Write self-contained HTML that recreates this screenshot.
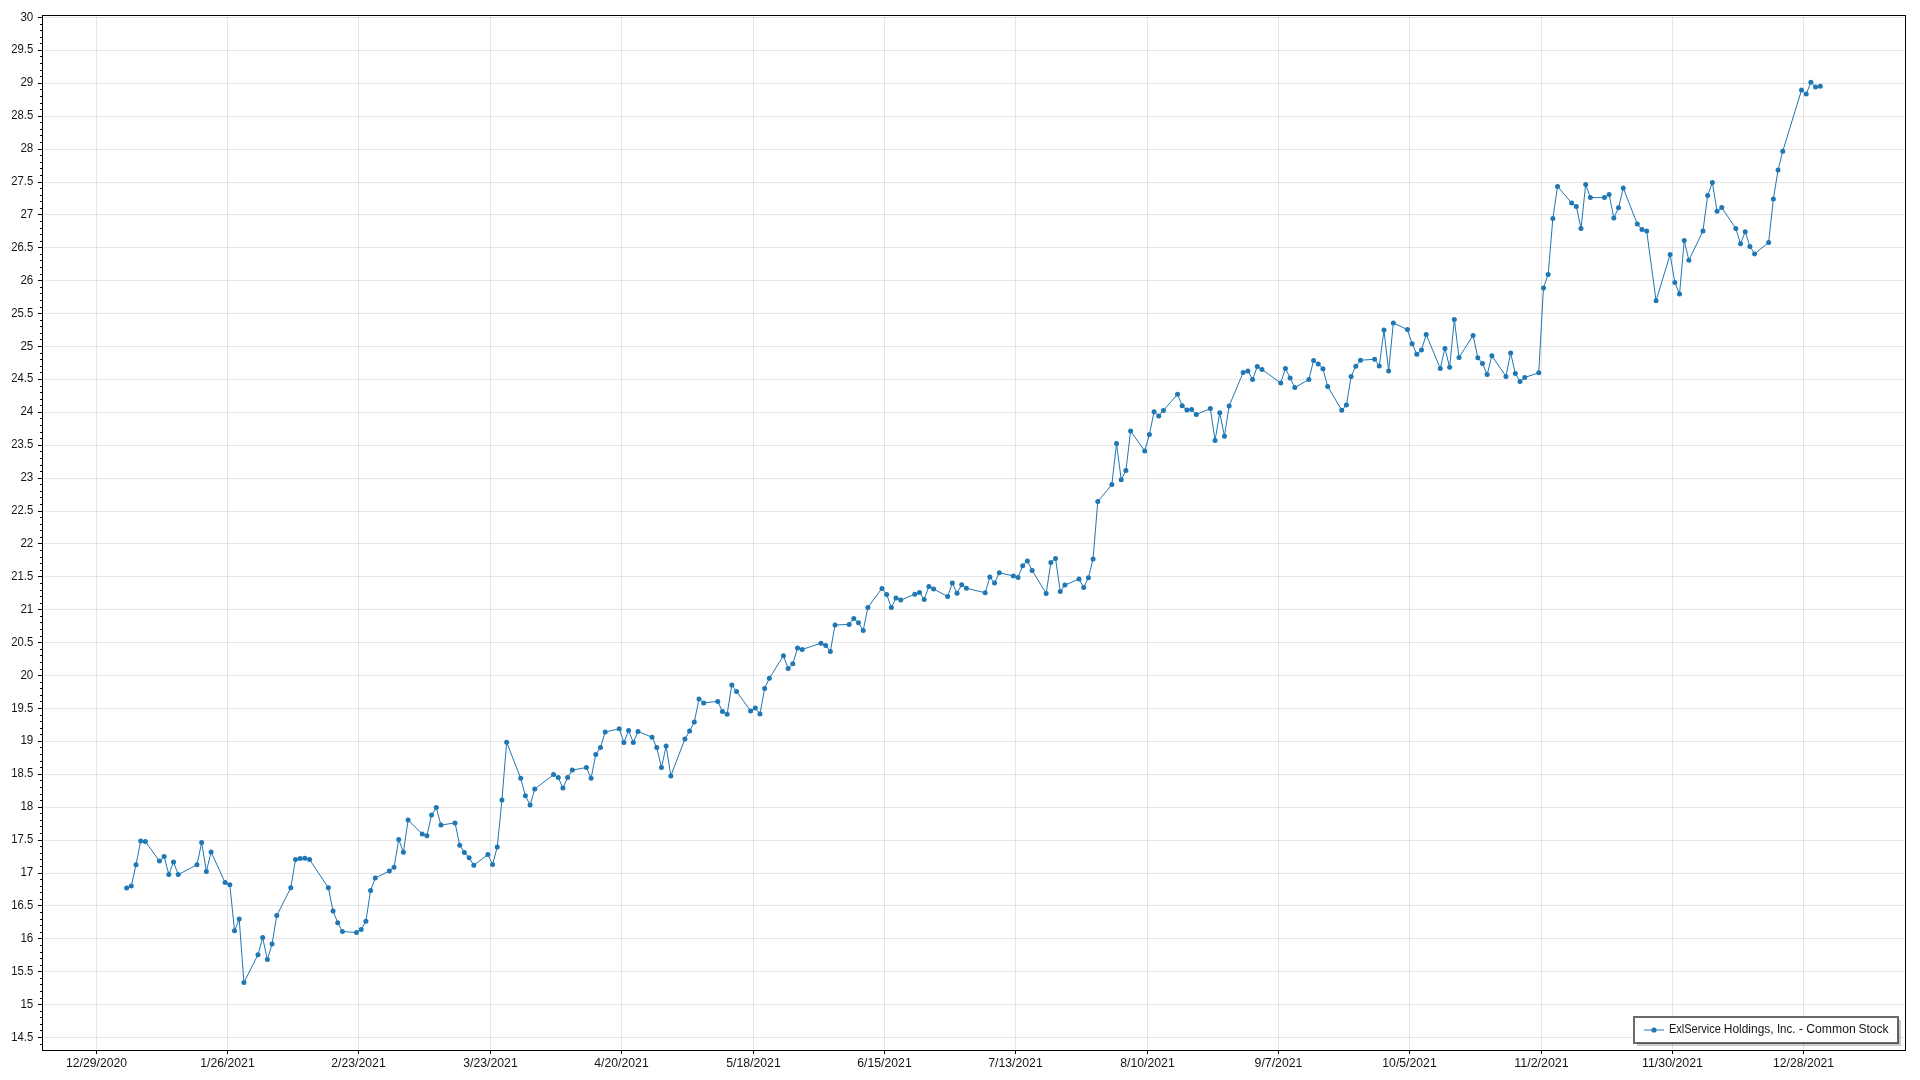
<!DOCTYPE html>
<html><head><meta charset="utf-8"><title>ExlService Holdings, Inc. - Common Stock</title>
<style>html,body{margin:0;padding:0;background:#fff;overflow:hidden}body{width:1920px;height:1080px}svg{display:block;position:absolute;left:0;top:0}text{font-family:"Liberation Sans",sans-serif;font-size:12px;fill:#000}</style></head><body>
<svg width="1920" height="1080" viewBox="0 0 1920 1080">
<defs><filter id="gs" x="0" y="0" width="100%" height="100%" filterUnits="userSpaceOnUse" color-interpolation-filters="sRGB"><feColorMatrix type="saturate" values="0"/></filter></defs>
<rect x="0" y="0" width="1920" height="1080" fill="#fff"/>
<g stroke="#000" stroke-opacity="0.1" stroke-width="1" shape-rendering="crispEdges">
<line x1="44" x2="1904" y1="1037.5" y2="1037.5"/>
<line x1="44" x2="1904" y1="1004.5" y2="1004.5"/>
<line x1="44" x2="1904" y1="971.5" y2="971.5"/>
<line x1="44" x2="1904" y1="938.5" y2="938.5"/>
<line x1="44" x2="1904" y1="905.5" y2="905.5"/>
<line x1="44" x2="1904" y1="873.5" y2="873.5"/>
<line x1="44" x2="1904" y1="840.5" y2="840.5"/>
<line x1="44" x2="1904" y1="807.5" y2="807.5"/>
<line x1="44" x2="1904" y1="774.5" y2="774.5"/>
<line x1="44" x2="1904" y1="741.5" y2="741.5"/>
<line x1="44" x2="1904" y1="708.5" y2="708.5"/>
<line x1="44" x2="1904" y1="675.5" y2="675.5"/>
<line x1="44" x2="1904" y1="642.5" y2="642.5"/>
<line x1="44" x2="1904" y1="609.5" y2="609.5"/>
<line x1="44" x2="1904" y1="576.5" y2="576.5"/>
<line x1="44" x2="1904" y1="543.5" y2="543.5"/>
<line x1="44" x2="1904" y1="511.5" y2="511.5"/>
<line x1="44" x2="1904" y1="478.5" y2="478.5"/>
<line x1="44" x2="1904" y1="445.5" y2="445.5"/>
<line x1="44" x2="1904" y1="412.5" y2="412.5"/>
<line x1="44" x2="1904" y1="379.5" y2="379.5"/>
<line x1="44" x2="1904" y1="346.5" y2="346.5"/>
<line x1="44" x2="1904" y1="313.5" y2="313.5"/>
<line x1="44" x2="1904" y1="280.5" y2="280.5"/>
<line x1="44" x2="1904" y1="247.5" y2="247.5"/>
<line x1="44" x2="1904" y1="214.5" y2="214.5"/>
<line x1="44" x2="1904" y1="182.5" y2="182.5"/>
<line x1="44" x2="1904" y1="149.5" y2="149.5"/>
<line x1="44" x2="1904" y1="116.5" y2="116.5"/>
<line x1="44" x2="1904" y1="83.5" y2="83.5"/>
<line x1="44" x2="1904" y1="50.5" y2="50.5"/>
<line x1="44" x2="1904" y1="17.5" y2="17.5"/>
<line x1="96.5" x2="96.5" y1="17" y2="1049"/>
<line x1="227.5" x2="227.5" y1="17" y2="1049"/>
<line x1="358.5" x2="358.5" y1="17" y2="1049"/>
<line x1="490.5" x2="490.5" y1="17" y2="1049"/>
<line x1="621.5" x2="621.5" y1="17" y2="1049"/>
<line x1="753.5" x2="753.5" y1="17" y2="1049"/>
<line x1="884.5" x2="884.5" y1="17" y2="1049"/>
<line x1="1015.5" x2="1015.5" y1="17" y2="1049"/>
<line x1="1147.5" x2="1147.5" y1="17" y2="1049"/>
<line x1="1278.5" x2="1278.5" y1="17" y2="1049"/>
<line x1="1409.5" x2="1409.5" y1="17" y2="1049"/>
<line x1="1541.5" x2="1541.5" y1="17" y2="1049"/>
<line x1="1672.5" x2="1672.5" y1="17" y2="1049"/>
<line x1="1803.5" x2="1803.5" y1="17" y2="1049"/>
</g>
<polyline fill="none" stroke="#1f77b4" stroke-width="1" stroke-linejoin="round" points="126.62,887.90 131.31,886.00 136.00,864.75 140.69,841.00 145.38,841.50 159.46,861.10 164.15,856.60 168.84,874.40 173.53,861.90 178.22,874.60 196.99,864.75 201.68,842.40 206.37,871.50 211.07,851.90 225.14,882.60 229.83,884.75 234.52,930.80 239.21,919.10 243.91,982.50 257.98,954.75 262.67,937.60 267.36,959.60 272.06,944.10 276.75,915.60 290.82,887.80 295.51,859.50 300.20,858.50 304.90,858.25 309.59,859.60 328.35,887.80 333.05,911.10 337.74,922.70 342.43,931.40 356.50,932.60 361.19,929.50 365.89,921.25 370.58,890.40 375.27,878.00 389.34,871.00 394.04,867.30 398.73,839.50 403.42,852.25 408.11,820.00 422.19,833.90 426.88,835.75 431.57,815.00 436.26,807.60 440.95,825.10 455.03,822.90 459.72,845.25 464.41,852.40 469.10,857.75 473.79,865.25 487.87,854.60 492.56,864.40 497.25,847.10 501.94,800.00 506.63,742.25 520.71,778.25 525.40,795.75 530.09,805.10 534.78,789.00 553.55,774.60 558.24,777.60 562.93,788.00 567.62,777.50 572.32,770.10 586.39,767.50 591.08,778.25 595.77,754.50 600.46,747.50 605.16,732.10 619.23,728.75 623.92,742.50 628.61,730.40 633.31,742.40 638.00,731.40 652.07,737.25 656.76,747.50 661.45,767.60 666.15,746.00 670.84,775.90 684.91,739.00 689.60,731.00 694.30,722.10 698.99,699.10 703.68,702.90 717.75,701.40 722.45,711.50 727.14,714.25 731.83,684.90 736.52,691.40 750.59,710.90 755.29,708.00 759.98,713.90 764.67,688.40 769.36,678.30 783.44,655.75 788.13,668.50 792.82,663.75 797.51,648.10 802.20,649.40 820.97,643.25 825.66,645.40 830.35,651.60 835.04,625.00 849.12,624.40 853.81,618.40 858.50,622.75 863.19,630.40 867.88,607.50 881.96,588.40 886.65,594.50 891.34,607.50 896.03,598.10 900.72,600.10 914.80,594.25 919.49,592.50 924.18,599.40 928.87,586.40 933.57,589.00 947.64,596.50 952.33,583.10 957.02,593.25 961.71,584.75 966.41,588.25 985.17,592.75 989.86,577.10 994.56,582.90 999.25,572.80 1013.32,575.90 1018.01,577.40 1022.70,565.75 1027.40,560.90 1032.09,570.40 1046.16,593.40 1050.85,562.60 1055.55,558.50 1060.24,591.60 1064.93,585.10 1079.00,579.10 1083.70,587.50 1088.39,577.75 1093.08,558.90 1097.77,501.50 1111.84,484.60 1116.54,443.50 1121.23,479.80 1125.92,470.50 1130.61,431.00 1144.69,451.00 1149.38,434.50 1154.07,411.75 1158.76,416.00 1163.45,410.40 1177.53,394.25 1182.22,405.75 1186.91,410.10 1191.60,409.50 1196.29,414.40 1210.37,408.60 1215.06,440.40 1219.75,412.75 1224.44,436.25 1229.13,405.90 1243.21,372.40 1247.90,370.90 1252.59,379.50 1257.28,366.60 1261.97,369.40 1280.74,383.10 1285.43,368.50 1290.12,377.90 1294.82,387.60 1308.89,379.50 1313.58,360.40 1318.27,364.00 1322.96,368.75 1327.66,386.45 1341.73,410.25 1346.42,405.10 1351.11,376.50 1355.81,366.25 1360.50,360.25 1374.57,359.25 1379.26,366.10 1383.96,330.10 1388.65,371.10 1393.34,323.00 1407.41,329.60 1412.10,343.75 1416.80,354.25 1421.49,350.10 1426.18,334.50 1440.25,368.40 1444.95,348.40 1449.64,367.25 1454.33,319.40 1459.02,357.50 1473.09,335.40 1477.79,357.75 1482.48,363.50 1487.17,374.60 1491.86,355.75 1505.94,376.40 1510.63,352.90 1515.32,373.50 1520.01,381.50 1524.70,377.50 1538.78,372.75 1543.47,287.90 1548.16,274.40 1552.85,218.50 1557.54,186.50 1571.62,202.90 1576.31,206.40 1581.00,228.40 1585.69,184.50 1590.38,197.60 1604.46,197.60 1609.15,194.50 1613.84,218.00 1618.53,207.75 1623.22,188.00 1637.30,224.10 1641.99,229.50 1646.68,231.00 1656.07,300.75 1670.14,254.50 1674.83,282.40 1679.52,294.10 1684.21,240.60 1688.91,260.25 1702.98,230.90 1707.67,195.40 1712.36,182.55 1717.06,211.25 1721.75,207.50 1735.82,228.60 1740.51,243.75 1745.21,231.75 1749.90,246.40 1754.59,253.90 1768.66,242.40 1773.35,199.00 1778.05,170.10 1782.74,151.25 1801.50,90.10 1806.20,94.10 1810.89,82.25 1815.58,87.00 1820.27,86.25"/>
<g fill="#1f77b4">
<circle cx="126.62" cy="887.90" r="2.5"/>
<circle cx="131.31" cy="886.00" r="2.5"/>
<circle cx="136.00" cy="864.75" r="2.5"/>
<circle cx="140.69" cy="841.00" r="2.5"/>
<circle cx="145.38" cy="841.50" r="2.5"/>
<circle cx="159.46" cy="861.10" r="2.5"/>
<circle cx="164.15" cy="856.60" r="2.5"/>
<circle cx="168.84" cy="874.40" r="2.5"/>
<circle cx="173.53" cy="861.90" r="2.5"/>
<circle cx="178.22" cy="874.60" r="2.5"/>
<circle cx="196.99" cy="864.75" r="2.5"/>
<circle cx="201.68" cy="842.40" r="2.5"/>
<circle cx="206.37" cy="871.50" r="2.5"/>
<circle cx="211.07" cy="851.90" r="2.5"/>
<circle cx="225.14" cy="882.60" r="2.5"/>
<circle cx="229.83" cy="884.75" r="2.5"/>
<circle cx="234.52" cy="930.80" r="2.5"/>
<circle cx="239.21" cy="919.10" r="2.5"/>
<circle cx="243.91" cy="982.50" r="2.5"/>
<circle cx="257.98" cy="954.75" r="2.5"/>
<circle cx="262.67" cy="937.60" r="2.5"/>
<circle cx="267.36" cy="959.60" r="2.5"/>
<circle cx="272.06" cy="944.10" r="2.5"/>
<circle cx="276.75" cy="915.60" r="2.5"/>
<circle cx="290.82" cy="887.80" r="2.5"/>
<circle cx="295.51" cy="859.50" r="2.5"/>
<circle cx="300.20" cy="858.50" r="2.5"/>
<circle cx="304.90" cy="858.25" r="2.5"/>
<circle cx="309.59" cy="859.60" r="2.5"/>
<circle cx="328.35" cy="887.80" r="2.5"/>
<circle cx="333.05" cy="911.10" r="2.5"/>
<circle cx="337.74" cy="922.70" r="2.5"/>
<circle cx="342.43" cy="931.40" r="2.5"/>
<circle cx="356.50" cy="932.60" r="2.5"/>
<circle cx="361.19" cy="929.50" r="2.5"/>
<circle cx="365.89" cy="921.25" r="2.5"/>
<circle cx="370.58" cy="890.40" r="2.5"/>
<circle cx="375.27" cy="878.00" r="2.5"/>
<circle cx="389.34" cy="871.00" r="2.5"/>
<circle cx="394.04" cy="867.30" r="2.5"/>
<circle cx="398.73" cy="839.50" r="2.5"/>
<circle cx="403.42" cy="852.25" r="2.5"/>
<circle cx="408.11" cy="820.00" r="2.5"/>
<circle cx="422.19" cy="833.90" r="2.5"/>
<circle cx="426.88" cy="835.75" r="2.5"/>
<circle cx="431.57" cy="815.00" r="2.5"/>
<circle cx="436.26" cy="807.60" r="2.5"/>
<circle cx="440.95" cy="825.10" r="2.5"/>
<circle cx="455.03" cy="822.90" r="2.5"/>
<circle cx="459.72" cy="845.25" r="2.5"/>
<circle cx="464.41" cy="852.40" r="2.5"/>
<circle cx="469.10" cy="857.75" r="2.5"/>
<circle cx="473.79" cy="865.25" r="2.5"/>
<circle cx="487.87" cy="854.60" r="2.5"/>
<circle cx="492.56" cy="864.40" r="2.5"/>
<circle cx="497.25" cy="847.10" r="2.5"/>
<circle cx="501.94" cy="800.00" r="2.5"/>
<circle cx="506.63" cy="742.25" r="2.5"/>
<circle cx="520.71" cy="778.25" r="2.5"/>
<circle cx="525.40" cy="795.75" r="2.5"/>
<circle cx="530.09" cy="805.10" r="2.5"/>
<circle cx="534.78" cy="789.00" r="2.5"/>
<circle cx="553.55" cy="774.60" r="2.5"/>
<circle cx="558.24" cy="777.60" r="2.5"/>
<circle cx="562.93" cy="788.00" r="2.5"/>
<circle cx="567.62" cy="777.50" r="2.5"/>
<circle cx="572.32" cy="770.10" r="2.5"/>
<circle cx="586.39" cy="767.50" r="2.5"/>
<circle cx="591.08" cy="778.25" r="2.5"/>
<circle cx="595.77" cy="754.50" r="2.5"/>
<circle cx="600.46" cy="747.50" r="2.5"/>
<circle cx="605.16" cy="732.10" r="2.5"/>
<circle cx="619.23" cy="728.75" r="2.5"/>
<circle cx="623.92" cy="742.50" r="2.5"/>
<circle cx="628.61" cy="730.40" r="2.5"/>
<circle cx="633.31" cy="742.40" r="2.5"/>
<circle cx="638.00" cy="731.40" r="2.5"/>
<circle cx="652.07" cy="737.25" r="2.5"/>
<circle cx="656.76" cy="747.50" r="2.5"/>
<circle cx="661.45" cy="767.60" r="2.5"/>
<circle cx="666.15" cy="746.00" r="2.5"/>
<circle cx="670.84" cy="775.90" r="2.5"/>
<circle cx="684.91" cy="739.00" r="2.5"/>
<circle cx="689.60" cy="731.00" r="2.5"/>
<circle cx="694.30" cy="722.10" r="2.5"/>
<circle cx="698.99" cy="699.10" r="2.5"/>
<circle cx="703.68" cy="702.90" r="2.5"/>
<circle cx="717.75" cy="701.40" r="2.5"/>
<circle cx="722.45" cy="711.50" r="2.5"/>
<circle cx="727.14" cy="714.25" r="2.5"/>
<circle cx="731.83" cy="684.90" r="2.5"/>
<circle cx="736.52" cy="691.40" r="2.5"/>
<circle cx="750.59" cy="710.90" r="2.5"/>
<circle cx="755.29" cy="708.00" r="2.5"/>
<circle cx="759.98" cy="713.90" r="2.5"/>
<circle cx="764.67" cy="688.40" r="2.5"/>
<circle cx="769.36" cy="678.30" r="2.5"/>
<circle cx="783.44" cy="655.75" r="2.5"/>
<circle cx="788.13" cy="668.50" r="2.5"/>
<circle cx="792.82" cy="663.75" r="2.5"/>
<circle cx="797.51" cy="648.10" r="2.5"/>
<circle cx="802.20" cy="649.40" r="2.5"/>
<circle cx="820.97" cy="643.25" r="2.5"/>
<circle cx="825.66" cy="645.40" r="2.5"/>
<circle cx="830.35" cy="651.60" r="2.5"/>
<circle cx="835.04" cy="625.00" r="2.5"/>
<circle cx="849.12" cy="624.40" r="2.5"/>
<circle cx="853.81" cy="618.40" r="2.5"/>
<circle cx="858.50" cy="622.75" r="2.5"/>
<circle cx="863.19" cy="630.40" r="2.5"/>
<circle cx="867.88" cy="607.50" r="2.5"/>
<circle cx="881.96" cy="588.40" r="2.5"/>
<circle cx="886.65" cy="594.50" r="2.5"/>
<circle cx="891.34" cy="607.50" r="2.5"/>
<circle cx="896.03" cy="598.10" r="2.5"/>
<circle cx="900.72" cy="600.10" r="2.5"/>
<circle cx="914.80" cy="594.25" r="2.5"/>
<circle cx="919.49" cy="592.50" r="2.5"/>
<circle cx="924.18" cy="599.40" r="2.5"/>
<circle cx="928.87" cy="586.40" r="2.5"/>
<circle cx="933.57" cy="589.00" r="2.5"/>
<circle cx="947.64" cy="596.50" r="2.5"/>
<circle cx="952.33" cy="583.10" r="2.5"/>
<circle cx="957.02" cy="593.25" r="2.5"/>
<circle cx="961.71" cy="584.75" r="2.5"/>
<circle cx="966.41" cy="588.25" r="2.5"/>
<circle cx="985.17" cy="592.75" r="2.5"/>
<circle cx="989.86" cy="577.10" r="2.5"/>
<circle cx="994.56" cy="582.90" r="2.5"/>
<circle cx="999.25" cy="572.80" r="2.5"/>
<circle cx="1013.32" cy="575.90" r="2.5"/>
<circle cx="1018.01" cy="577.40" r="2.5"/>
<circle cx="1022.70" cy="565.75" r="2.5"/>
<circle cx="1027.40" cy="560.90" r="2.5"/>
<circle cx="1032.09" cy="570.40" r="2.5"/>
<circle cx="1046.16" cy="593.40" r="2.5"/>
<circle cx="1050.85" cy="562.60" r="2.5"/>
<circle cx="1055.55" cy="558.50" r="2.5"/>
<circle cx="1060.24" cy="591.60" r="2.5"/>
<circle cx="1064.93" cy="585.10" r="2.5"/>
<circle cx="1079.00" cy="579.10" r="2.5"/>
<circle cx="1083.70" cy="587.50" r="2.5"/>
<circle cx="1088.39" cy="577.75" r="2.5"/>
<circle cx="1093.08" cy="558.90" r="2.5"/>
<circle cx="1097.77" cy="501.50" r="2.5"/>
<circle cx="1111.84" cy="484.60" r="2.5"/>
<circle cx="1116.54" cy="443.50" r="2.5"/>
<circle cx="1121.23" cy="479.80" r="2.5"/>
<circle cx="1125.92" cy="470.50" r="2.5"/>
<circle cx="1130.61" cy="431.00" r="2.5"/>
<circle cx="1144.69" cy="451.00" r="2.5"/>
<circle cx="1149.38" cy="434.50" r="2.5"/>
<circle cx="1154.07" cy="411.75" r="2.5"/>
<circle cx="1158.76" cy="416.00" r="2.5"/>
<circle cx="1163.45" cy="410.40" r="2.5"/>
<circle cx="1177.53" cy="394.25" r="2.5"/>
<circle cx="1182.22" cy="405.75" r="2.5"/>
<circle cx="1186.91" cy="410.10" r="2.5"/>
<circle cx="1191.60" cy="409.50" r="2.5"/>
<circle cx="1196.29" cy="414.40" r="2.5"/>
<circle cx="1210.37" cy="408.60" r="2.5"/>
<circle cx="1215.06" cy="440.40" r="2.5"/>
<circle cx="1219.75" cy="412.75" r="2.5"/>
<circle cx="1224.44" cy="436.25" r="2.5"/>
<circle cx="1229.13" cy="405.90" r="2.5"/>
<circle cx="1243.21" cy="372.40" r="2.5"/>
<circle cx="1247.90" cy="370.90" r="2.5"/>
<circle cx="1252.59" cy="379.50" r="2.5"/>
<circle cx="1257.28" cy="366.60" r="2.5"/>
<circle cx="1261.97" cy="369.40" r="2.5"/>
<circle cx="1280.74" cy="383.10" r="2.5"/>
<circle cx="1285.43" cy="368.50" r="2.5"/>
<circle cx="1290.12" cy="377.90" r="2.5"/>
<circle cx="1294.82" cy="387.60" r="2.5"/>
<circle cx="1308.89" cy="379.50" r="2.5"/>
<circle cx="1313.58" cy="360.40" r="2.5"/>
<circle cx="1318.27" cy="364.00" r="2.5"/>
<circle cx="1322.96" cy="368.75" r="2.5"/>
<circle cx="1327.66" cy="386.45" r="2.5"/>
<circle cx="1341.73" cy="410.25" r="2.5"/>
<circle cx="1346.42" cy="405.10" r="2.5"/>
<circle cx="1351.11" cy="376.50" r="2.5"/>
<circle cx="1355.81" cy="366.25" r="2.5"/>
<circle cx="1360.50" cy="360.25" r="2.5"/>
<circle cx="1374.57" cy="359.25" r="2.5"/>
<circle cx="1379.26" cy="366.10" r="2.5"/>
<circle cx="1383.96" cy="330.10" r="2.5"/>
<circle cx="1388.65" cy="371.10" r="2.5"/>
<circle cx="1393.34" cy="323.00" r="2.5"/>
<circle cx="1407.41" cy="329.60" r="2.5"/>
<circle cx="1412.10" cy="343.75" r="2.5"/>
<circle cx="1416.80" cy="354.25" r="2.5"/>
<circle cx="1421.49" cy="350.10" r="2.5"/>
<circle cx="1426.18" cy="334.50" r="2.5"/>
<circle cx="1440.25" cy="368.40" r="2.5"/>
<circle cx="1444.95" cy="348.40" r="2.5"/>
<circle cx="1449.64" cy="367.25" r="2.5"/>
<circle cx="1454.33" cy="319.40" r="2.5"/>
<circle cx="1459.02" cy="357.50" r="2.5"/>
<circle cx="1473.09" cy="335.40" r="2.5"/>
<circle cx="1477.79" cy="357.75" r="2.5"/>
<circle cx="1482.48" cy="363.50" r="2.5"/>
<circle cx="1487.17" cy="374.60" r="2.5"/>
<circle cx="1491.86" cy="355.75" r="2.5"/>
<circle cx="1505.94" cy="376.40" r="2.5"/>
<circle cx="1510.63" cy="352.90" r="2.5"/>
<circle cx="1515.32" cy="373.50" r="2.5"/>
<circle cx="1520.01" cy="381.50" r="2.5"/>
<circle cx="1524.70" cy="377.50" r="2.5"/>
<circle cx="1538.78" cy="372.75" r="2.5"/>
<circle cx="1543.47" cy="287.90" r="2.5"/>
<circle cx="1548.16" cy="274.40" r="2.5"/>
<circle cx="1552.85" cy="218.50" r="2.5"/>
<circle cx="1557.54" cy="186.50" r="2.5"/>
<circle cx="1571.62" cy="202.90" r="2.5"/>
<circle cx="1576.31" cy="206.40" r="2.5"/>
<circle cx="1581.00" cy="228.40" r="2.5"/>
<circle cx="1585.69" cy="184.50" r="2.5"/>
<circle cx="1590.38" cy="197.60" r="2.5"/>
<circle cx="1604.46" cy="197.60" r="2.5"/>
<circle cx="1609.15" cy="194.50" r="2.5"/>
<circle cx="1613.84" cy="218.00" r="2.5"/>
<circle cx="1618.53" cy="207.75" r="2.5"/>
<circle cx="1623.22" cy="188.00" r="2.5"/>
<circle cx="1637.30" cy="224.10" r="2.5"/>
<circle cx="1641.99" cy="229.50" r="2.5"/>
<circle cx="1646.68" cy="231.00" r="2.5"/>
<circle cx="1656.07" cy="300.75" r="2.5"/>
<circle cx="1670.14" cy="254.50" r="2.5"/>
<circle cx="1674.83" cy="282.40" r="2.5"/>
<circle cx="1679.52" cy="294.10" r="2.5"/>
<circle cx="1684.21" cy="240.60" r="2.5"/>
<circle cx="1688.91" cy="260.25" r="2.5"/>
<circle cx="1702.98" cy="230.90" r="2.5"/>
<circle cx="1707.67" cy="195.40" r="2.5"/>
<circle cx="1712.36" cy="182.55" r="2.5"/>
<circle cx="1717.06" cy="211.25" r="2.5"/>
<circle cx="1721.75" cy="207.50" r="2.5"/>
<circle cx="1735.82" cy="228.60" r="2.5"/>
<circle cx="1740.51" cy="243.75" r="2.5"/>
<circle cx="1745.21" cy="231.75" r="2.5"/>
<circle cx="1749.90" cy="246.40" r="2.5"/>
<circle cx="1754.59" cy="253.90" r="2.5"/>
<circle cx="1768.66" cy="242.40" r="2.5"/>
<circle cx="1773.35" cy="199.00" r="2.5"/>
<circle cx="1778.05" cy="170.10" r="2.5"/>
<circle cx="1782.74" cy="151.25" r="2.5"/>
<circle cx="1801.50" cy="90.10" r="2.5"/>
<circle cx="1806.20" cy="94.10" r="2.5"/>
<circle cx="1810.89" cy="82.25" r="2.5"/>
<circle cx="1815.58" cy="87.00" r="2.5"/>
<circle cx="1820.27" cy="86.25" r="2.5"/>
</g>
<g stroke="#000" stroke-width="1" shape-rendering="crispEdges" fill="none">
<rect x="42.5" y="15.5" width="1863" height="1035"/>
<line x1="40" x2="42" y1="1044.5" y2="1044.5"/>
<line x1="38" x2="42" y1="1037.5" y2="1037.5"/>
<line x1="40" x2="42" y1="1030.5" y2="1030.5"/>
<line x1="40" x2="42" y1="1024.5" y2="1024.5"/>
<line x1="40" x2="42" y1="1017.5" y2="1017.5"/>
<line x1="40" x2="42" y1="1011.5" y2="1011.5"/>
<line x1="38" x2="42" y1="1004.5" y2="1004.5"/>
<line x1="40" x2="42" y1="998.5" y2="998.5"/>
<line x1="40" x2="42" y1="991.5" y2="991.5"/>
<line x1="40" x2="42" y1="984.5" y2="984.5"/>
<line x1="40" x2="42" y1="978.5" y2="978.5"/>
<line x1="38" x2="42" y1="971.5" y2="971.5"/>
<line x1="40" x2="42" y1="965.5" y2="965.5"/>
<line x1="40" x2="42" y1="958.5" y2="958.5"/>
<line x1="40" x2="42" y1="952.5" y2="952.5"/>
<line x1="40" x2="42" y1="945.5" y2="945.5"/>
<line x1="38" x2="42" y1="938.5" y2="938.5"/>
<line x1="40" x2="42" y1="932.5" y2="932.5"/>
<line x1="40" x2="42" y1="925.5" y2="925.5"/>
<line x1="40" x2="42" y1="919.5" y2="919.5"/>
<line x1="40" x2="42" y1="912.5" y2="912.5"/>
<line x1="38" x2="42" y1="905.5" y2="905.5"/>
<line x1="40" x2="42" y1="899.5" y2="899.5"/>
<line x1="40" x2="42" y1="892.5" y2="892.5"/>
<line x1="40" x2="42" y1="886.5" y2="886.5"/>
<line x1="40" x2="42" y1="879.5" y2="879.5"/>
<line x1="38" x2="42" y1="873.5" y2="873.5"/>
<line x1="40" x2="42" y1="866.5" y2="866.5"/>
<line x1="40" x2="42" y1="859.5" y2="859.5"/>
<line x1="40" x2="42" y1="853.5" y2="853.5"/>
<line x1="40" x2="42" y1="846.5" y2="846.5"/>
<line x1="38" x2="42" y1="840.5" y2="840.5"/>
<line x1="40" x2="42" y1="833.5" y2="833.5"/>
<line x1="40" x2="42" y1="826.5" y2="826.5"/>
<line x1="40" x2="42" y1="820.5" y2="820.5"/>
<line x1="40" x2="42" y1="813.5" y2="813.5"/>
<line x1="38" x2="42" y1="807.5" y2="807.5"/>
<line x1="40" x2="42" y1="800.5" y2="800.5"/>
<line x1="40" x2="42" y1="794.5" y2="794.5"/>
<line x1="40" x2="42" y1="787.5" y2="787.5"/>
<line x1="40" x2="42" y1="780.5" y2="780.5"/>
<line x1="38" x2="42" y1="774.5" y2="774.5"/>
<line x1="40" x2="42" y1="767.5" y2="767.5"/>
<line x1="40" x2="42" y1="761.5" y2="761.5"/>
<line x1="40" x2="42" y1="754.5" y2="754.5"/>
<line x1="40" x2="42" y1="747.5" y2="747.5"/>
<line x1="38" x2="42" y1="741.5" y2="741.5"/>
<line x1="40" x2="42" y1="734.5" y2="734.5"/>
<line x1="40" x2="42" y1="728.5" y2="728.5"/>
<line x1="40" x2="42" y1="721.5" y2="721.5"/>
<line x1="40" x2="42" y1="715.5" y2="715.5"/>
<line x1="38" x2="42" y1="708.5" y2="708.5"/>
<line x1="40" x2="42" y1="701.5" y2="701.5"/>
<line x1="40" x2="42" y1="695.5" y2="695.5"/>
<line x1="40" x2="42" y1="688.5" y2="688.5"/>
<line x1="40" x2="42" y1="682.5" y2="682.5"/>
<line x1="38" x2="42" y1="675.5" y2="675.5"/>
<line x1="40" x2="42" y1="669.5" y2="669.5"/>
<line x1="40" x2="42" y1="662.5" y2="662.5"/>
<line x1="40" x2="42" y1="655.5" y2="655.5"/>
<line x1="40" x2="42" y1="649.5" y2="649.5"/>
<line x1="38" x2="42" y1="642.5" y2="642.5"/>
<line x1="40" x2="42" y1="636.5" y2="636.5"/>
<line x1="40" x2="42" y1="629.5" y2="629.5"/>
<line x1="40" x2="42" y1="622.5" y2="622.5"/>
<line x1="40" x2="42" y1="616.5" y2="616.5"/>
<line x1="38" x2="42" y1="609.5" y2="609.5"/>
<line x1="40" x2="42" y1="603.5" y2="603.5"/>
<line x1="40" x2="42" y1="596.5" y2="596.5"/>
<line x1="40" x2="42" y1="590.5" y2="590.5"/>
<line x1="40" x2="42" y1="583.5" y2="583.5"/>
<line x1="38" x2="42" y1="576.5" y2="576.5"/>
<line x1="40" x2="42" y1="570.5" y2="570.5"/>
<line x1="40" x2="42" y1="563.5" y2="563.5"/>
<line x1="40" x2="42" y1="557.5" y2="557.5"/>
<line x1="40" x2="42" y1="550.5" y2="550.5"/>
<line x1="38" x2="42" y1="543.5" y2="543.5"/>
<line x1="40" x2="42" y1="537.5" y2="537.5"/>
<line x1="40" x2="42" y1="530.5" y2="530.5"/>
<line x1="40" x2="42" y1="524.5" y2="524.5"/>
<line x1="40" x2="42" y1="517.5" y2="517.5"/>
<line x1="38" x2="42" y1="511.5" y2="511.5"/>
<line x1="40" x2="42" y1="504.5" y2="504.5"/>
<line x1="40" x2="42" y1="497.5" y2="497.5"/>
<line x1="40" x2="42" y1="491.5" y2="491.5"/>
<line x1="40" x2="42" y1="484.5" y2="484.5"/>
<line x1="38" x2="42" y1="478.5" y2="478.5"/>
<line x1="40" x2="42" y1="471.5" y2="471.5"/>
<line x1="40" x2="42" y1="465.5" y2="465.5"/>
<line x1="40" x2="42" y1="458.5" y2="458.5"/>
<line x1="40" x2="42" y1="451.5" y2="451.5"/>
<line x1="38" x2="42" y1="445.5" y2="445.5"/>
<line x1="40" x2="42" y1="438.5" y2="438.5"/>
<line x1="40" x2="42" y1="432.5" y2="432.5"/>
<line x1="40" x2="42" y1="425.5" y2="425.5"/>
<line x1="40" x2="42" y1="418.5" y2="418.5"/>
<line x1="38" x2="42" y1="412.5" y2="412.5"/>
<line x1="40" x2="42" y1="405.5" y2="405.5"/>
<line x1="40" x2="42" y1="399.5" y2="399.5"/>
<line x1="40" x2="42" y1="392.5" y2="392.5"/>
<line x1="40" x2="42" y1="386.5" y2="386.5"/>
<line x1="38" x2="42" y1="379.5" y2="379.5"/>
<line x1="40" x2="42" y1="372.5" y2="372.5"/>
<line x1="40" x2="42" y1="366.5" y2="366.5"/>
<line x1="40" x2="42" y1="359.5" y2="359.5"/>
<line x1="40" x2="42" y1="353.5" y2="353.5"/>
<line x1="38" x2="42" y1="346.5" y2="346.5"/>
<line x1="40" x2="42" y1="339.5" y2="339.5"/>
<line x1="40" x2="42" y1="333.5" y2="333.5"/>
<line x1="40" x2="42" y1="326.5" y2="326.5"/>
<line x1="40" x2="42" y1="320.5" y2="320.5"/>
<line x1="38" x2="42" y1="313.5" y2="313.5"/>
<line x1="40" x2="42" y1="307.5" y2="307.5"/>
<line x1="40" x2="42" y1="300.5" y2="300.5"/>
<line x1="40" x2="42" y1="293.5" y2="293.5"/>
<line x1="40" x2="42" y1="287.5" y2="287.5"/>
<line x1="38" x2="42" y1="280.5" y2="280.5"/>
<line x1="40" x2="42" y1="274.5" y2="274.5"/>
<line x1="40" x2="42" y1="267.5" y2="267.5"/>
<line x1="40" x2="42" y1="260.5" y2="260.5"/>
<line x1="40" x2="42" y1="254.5" y2="254.5"/>
<line x1="38" x2="42" y1="247.5" y2="247.5"/>
<line x1="40" x2="42" y1="241.5" y2="241.5"/>
<line x1="40" x2="42" y1="234.5" y2="234.5"/>
<line x1="40" x2="42" y1="228.5" y2="228.5"/>
<line x1="40" x2="42" y1="221.5" y2="221.5"/>
<line x1="38" x2="42" y1="214.5" y2="214.5"/>
<line x1="40" x2="42" y1="208.5" y2="208.5"/>
<line x1="40" x2="42" y1="201.5" y2="201.5"/>
<line x1="40" x2="42" y1="195.5" y2="195.5"/>
<line x1="40" x2="42" y1="188.5" y2="188.5"/>
<line x1="38" x2="42" y1="182.5" y2="182.5"/>
<line x1="40" x2="42" y1="175.5" y2="175.5"/>
<line x1="40" x2="42" y1="168.5" y2="168.5"/>
<line x1="40" x2="42" y1="162.5" y2="162.5"/>
<line x1="40" x2="42" y1="155.5" y2="155.5"/>
<line x1="38" x2="42" y1="149.5" y2="149.5"/>
<line x1="40" x2="42" y1="142.5" y2="142.5"/>
<line x1="40" x2="42" y1="135.5" y2="135.5"/>
<line x1="40" x2="42" y1="129.5" y2="129.5"/>
<line x1="40" x2="42" y1="122.5" y2="122.5"/>
<line x1="38" x2="42" y1="116.5" y2="116.5"/>
<line x1="40" x2="42" y1="109.5" y2="109.5"/>
<line x1="40" x2="42" y1="103.5" y2="103.5"/>
<line x1="40" x2="42" y1="96.5" y2="96.5"/>
<line x1="40" x2="42" y1="89.5" y2="89.5"/>
<line x1="38" x2="42" y1="83.5" y2="83.5"/>
<line x1="40" x2="42" y1="76.5" y2="76.5"/>
<line x1="40" x2="42" y1="70.5" y2="70.5"/>
<line x1="40" x2="42" y1="63.5" y2="63.5"/>
<line x1="40" x2="42" y1="56.5" y2="56.5"/>
<line x1="38" x2="42" y1="50.5" y2="50.5"/>
<line x1="40" x2="42" y1="43.5" y2="43.5"/>
<line x1="40" x2="42" y1="37.5" y2="37.5"/>
<line x1="40" x2="42" y1="30.5" y2="30.5"/>
<line x1="40" x2="42" y1="24.5" y2="24.5"/>
<line x1="38" x2="42" y1="17.5" y2="17.5"/>
<line x1="96.5" x2="96.5" y1="1051" y2="1054"/>
<line x1="227.5" x2="227.5" y1="1051" y2="1054"/>
<line x1="358.5" x2="358.5" y1="1051" y2="1054"/>
<line x1="490.5" x2="490.5" y1="1051" y2="1054"/>
<line x1="621.5" x2="621.5" y1="1051" y2="1054"/>
<line x1="753.5" x2="753.5" y1="1051" y2="1054"/>
<line x1="884.5" x2="884.5" y1="1051" y2="1054"/>
<line x1="1015.5" x2="1015.5" y1="1051" y2="1054"/>
<line x1="1147.5" x2="1147.5" y1="1051" y2="1054"/>
<line x1="1278.5" x2="1278.5" y1="1051" y2="1054"/>
<line x1="1409.5" x2="1409.5" y1="1051" y2="1054"/>
<line x1="1541.5" x2="1541.5" y1="1051" y2="1054"/>
<line x1="1672.5" x2="1672.5" y1="1051" y2="1054"/>
<line x1="1803.5" x2="1803.5" y1="1051" y2="1054"/>
</g>
<g text-anchor="end" opacity="0.92" filter="url(#gs)">
<text x="33.3" y="1041.0" textLength="22.0" lengthAdjust="spacingAndGlyphs">14.5</text>
<text x="33.3" y="1008.0" textLength="12.9" lengthAdjust="spacingAndGlyphs">15</text>
<text x="33.3" y="975.0" textLength="22.0" lengthAdjust="spacingAndGlyphs">15.5</text>
<text x="33.3" y="942.0" textLength="12.9" lengthAdjust="spacingAndGlyphs">16</text>
<text x="33.3" y="909.0" textLength="22.0" lengthAdjust="spacingAndGlyphs">16.5</text>
<text x="33.3" y="876.0" textLength="12.9" lengthAdjust="spacingAndGlyphs">17</text>
<text x="33.3" y="843.0" textLength="22.0" lengthAdjust="spacingAndGlyphs">17.5</text>
<text x="33.3" y="810.0" textLength="12.9" lengthAdjust="spacingAndGlyphs">18</text>
<text x="33.3" y="777.0" textLength="22.0" lengthAdjust="spacingAndGlyphs">18.5</text>
<text x="33.3" y="744.0" textLength="12.9" lengthAdjust="spacingAndGlyphs">19</text>
<text x="33.3" y="712.0" textLength="22.0" lengthAdjust="spacingAndGlyphs">19.5</text>
<text x="33.3" y="679.0" textLength="12.9" lengthAdjust="spacingAndGlyphs">20</text>
<text x="33.3" y="646.0" textLength="22.0" lengthAdjust="spacingAndGlyphs">20.5</text>
<text x="33.3" y="613.0" textLength="12.9" lengthAdjust="spacingAndGlyphs">21</text>
<text x="33.3" y="580.0" textLength="22.0" lengthAdjust="spacingAndGlyphs">21.5</text>
<text x="33.3" y="547.0" textLength="12.9" lengthAdjust="spacingAndGlyphs">22</text>
<text x="33.3" y="514.0" textLength="22.0" lengthAdjust="spacingAndGlyphs">22.5</text>
<text x="33.3" y="481.0" textLength="12.9" lengthAdjust="spacingAndGlyphs">23</text>
<text x="33.3" y="448.0" textLength="22.0" lengthAdjust="spacingAndGlyphs">23.5</text>
<text x="33.3" y="415.0" textLength="12.9" lengthAdjust="spacingAndGlyphs">24</text>
<text x="33.3" y="382.0" textLength="22.0" lengthAdjust="spacingAndGlyphs">24.5</text>
<text x="33.3" y="350.0" textLength="12.9" lengthAdjust="spacingAndGlyphs">25</text>
<text x="33.3" y="317.0" textLength="22.0" lengthAdjust="spacingAndGlyphs">25.5</text>
<text x="33.3" y="284.0" textLength="12.9" lengthAdjust="spacingAndGlyphs">26</text>
<text x="33.3" y="251.0" textLength="22.0" lengthAdjust="spacingAndGlyphs">26.5</text>
<text x="33.3" y="218.0" textLength="12.9" lengthAdjust="spacingAndGlyphs">27</text>
<text x="33.3" y="185.0" textLength="22.0" lengthAdjust="spacingAndGlyphs">27.5</text>
<text x="33.3" y="152.0" textLength="12.9" lengthAdjust="spacingAndGlyphs">28</text>
<text x="33.3" y="119.0" textLength="22.0" lengthAdjust="spacingAndGlyphs">28.5</text>
<text x="33.3" y="86.0" textLength="12.9" lengthAdjust="spacingAndGlyphs">29</text>
<text x="33.3" y="53.0" textLength="22.0" lengthAdjust="spacingAndGlyphs">29.5</text>
<text x="33.3" y="21.0" textLength="12.9" lengthAdjust="spacingAndGlyphs">30</text>
</g>
<g text-anchor="middle" opacity="0.92" filter="url(#gs)">
<text x="96.5" y="1067" textLength="60.9" lengthAdjust="spacingAndGlyphs">12/29/2020</text>
<text x="227.5" y="1067" textLength="54.4" lengthAdjust="spacingAndGlyphs">1/26/2021</text>
<text x="358.5" y="1067" textLength="54.4" lengthAdjust="spacingAndGlyphs">2/23/2021</text>
<text x="490.5" y="1067" textLength="54.4" lengthAdjust="spacingAndGlyphs">3/23/2021</text>
<text x="621.5" y="1067" textLength="54.4" lengthAdjust="spacingAndGlyphs">4/20/2021</text>
<text x="753.5" y="1067" textLength="54.4" lengthAdjust="spacingAndGlyphs">5/18/2021</text>
<text x="884.5" y="1067" textLength="54.4" lengthAdjust="spacingAndGlyphs">6/15/2021</text>
<text x="1015.5" y="1067" textLength="54.4" lengthAdjust="spacingAndGlyphs">7/13/2021</text>
<text x="1147.5" y="1067" textLength="54.4" lengthAdjust="spacingAndGlyphs">8/10/2021</text>
<text x="1278.5" y="1067" textLength="47.9" lengthAdjust="spacingAndGlyphs">9/7/2021</text>
<text x="1409.5" y="1067" textLength="54.4" lengthAdjust="spacingAndGlyphs">10/5/2021</text>
<text x="1541.5" y="1067" textLength="54.4" lengthAdjust="spacingAndGlyphs">11/2/2021</text>
<text x="1672.5" y="1067" textLength="60.9" lengthAdjust="spacingAndGlyphs">11/30/2021</text>
<text x="1803.5" y="1067" textLength="60.9" lengthAdjust="spacingAndGlyphs">12/28/2021</text>
</g>
<rect x="1637" y="1020" width="264" height="26" fill="#000" fill-opacity="0.2"/>
<rect x="1634" y="1017" width="264" height="26" fill="#fff" stroke="#000" stroke-opacity="0.58" stroke-width="2"/>
<line x1="1644" x2="1664" y1="1030" y2="1030" stroke="#1f77b4" stroke-opacity="0.5" stroke-width="2"/>
<circle cx="1654" cy="1030" r="2.6" fill="#1f77b4"/>
<g opacity="0.92" filter="url(#gs)">
<text x="1668.90" y="1033" textLength="52.00" lengthAdjust="spacingAndGlyphs">ExlService</text>
<text x="1723.80" y="1033" textLength="49.80" lengthAdjust="spacingAndGlyphs">Holdings,</text>
<text x="1776.90" y="1033" textLength="18.60" lengthAdjust="spacingAndGlyphs">Inc.</text>
<text x="1798.70" y="1033" textLength="4.40" lengthAdjust="spacingAndGlyphs">-</text>
<text x="1806.20" y="1033" textLength="49.60" lengthAdjust="spacingAndGlyphs">Common</text>
<text x="1858.40" y="1033" textLength="30.20" lengthAdjust="spacingAndGlyphs">Stock</text>
</g>
</svg></body></html>
